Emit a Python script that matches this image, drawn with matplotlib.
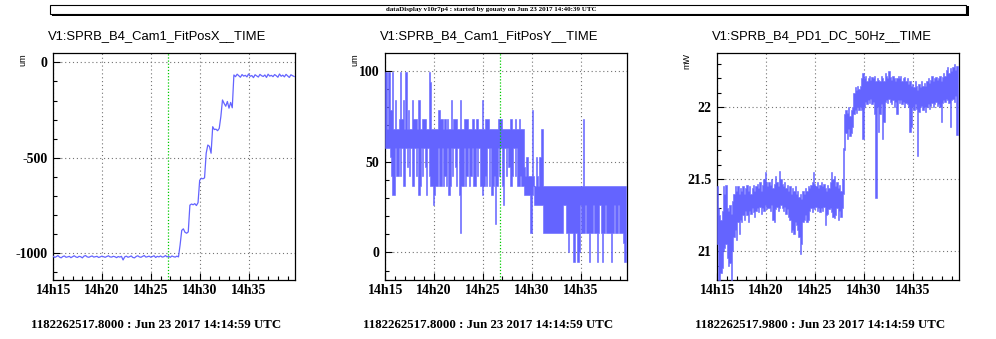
import datetime as dt
import numpy as np
import matplotlib
matplotlib.use('Agg')
import matplotlib.pyplot as plt
import matplotlib.dates as mdates
from matplotlib.patches import Rectangle

# trend start (GPS 1182262517) and window length
start = dt.datetime(2017, 6, 23, 14, 14, 59)
span_s = 1485
marker_s = 705  # green cursor

titles = ['V1:SPRB_B4_Cam1_FitPosX__TIME',
          'V1:SPRB_B4_Cam1_FitPosY__TIME',
          'V1:SPRB_B4_PD1_DC_50Hz__TIME']
units = ['um', 'um', 'mW']
footers = ['1182262517.8000 : Jun 23 2017 14:14:59 UTC',
           '1182262517.8000 : Jun 23 2017 14:14:59 UTC',
           '1182262517.9800 : Jun 23 2017 14:14:59 UTC']
header = 'dataDisplay v10r7p4 : started by gouaty on Jun 23 2017 14:40:39 UTC'

# FitPosX, one value every 10 s
posx_step_s = 10
posx = [
    -1015, -1022, -1018, -1012, -1020, -1024, -1017, -1014, -1021, -1019,
    -1016, -1023, -1018, -1013, -1019, -1022, -1016, -1018, -1024, -1015,
    -1012, -1019, -1021, -1017, -1014, -1020, -1018, -1016, -1022, -1019,
    -1015, -1018, -1021, -1017, -1013, -1019, -1020, -1016, -1018, -1023,
    -1017, -1020, -1016, -1035, -1019, -1015, -1021, -1018, -1014, -1022,
    -1024, -1017, -1013, -1019, -1021, -1016, -1012, -1020, -1018, -1015,
    -1021, -1017, -1013, -1022, -1016, -1019, -1014, -1020, -1018, -1012,
    -1019, -1016, -1021, -1014, -1018, -1020, -1015, -1019,
    -956, -880, -872, -890, -895, -888,
    -748, -742, -746, -740, -750, -735,
    -618, -607, -610, -605,
    -476, -433, -440, -476, -337, -352, -350, -358, -346, -284,
    -197, -215, -230, -205, -240, -210, -238,
    -66, -75, -62, -70, -78, -64, -72, -68, -76, -61, -73, -69, -80, -65,
    -71, -77, -63, -70, -74, -66, -79, -62, -72, -68, -75, -64, -70, -78,
    -61, -73, -67, -76, -63, -71, -79, -65, -70, -74,
]

# 8 s bins: min and max of the raw samples in each bin
bin_s = 8

posy_hi = [
    99.3, 99.3, 67.9, 99.3, 78.4, 78.4, 99.3, 67.9, 83.6, 67.9,
    67.9, 73.2, 99.3, 73.2, 83.6, 67.9, 99.3, 67.9, 78.4, 67.9,
    67.9, 83.6, 73.2, 73.2, 73.2, 67.9, 83.6, 67.9, 67.9, 73.2,
    73.2, 73.2, 67.9, 67.9, 99.3, 94.0, 67.9, 67.9, 67.9, 67.9,
    67.9, 78.4, 78.4, 73.2, 73.2, 67.9, 73.2, 67.9, 73.2, 67.9,
    67.9, 83.6, 67.9, 73.2, 73.2, 73.2, 67.9, 67.9, 83.6, 67.9,
    67.9, 73.2, 73.2, 73.2, 67.9, 67.9, 67.9, 73.2, 73.2, 67.9,
    73.2, 73.2, 67.9, 67.9, 67.9, 83.6, 67.9, 73.2, 73.2, 73.2,
    67.9, 67.9, 67.9, 67.9, 67.9, 67.9, 67.9, 73.2, 73.2, 73.2,
    67.9, 67.9, 67.9, 67.9, 67.9, 67.9, 73.2, 73.2, 67.9, 67.9,
    73.2, 67.9, 67.9, 73.2, 67.9, 67.9, 67.9, 47.1, 41.9, 52.3,
    41.9, 41.9, 41.9, 78.4, 41.9, 36.7, 52.3, 41.9, 36.7, 52.3,
    67.9, 67.9, 36.7, 36.7, 36.7, 36.7, 36.7, 36.7, 36.7, 36.7,
    36.7, 36.7, 36.7, 36.7, 36.7, 36.7, 36.7, 36.7, 36.7, 36.7,
    36.7, 36.7, 36.7, 36.7, 36.7, 36.7, 36.7, 36.7, 36.7, 36.7,
    36.7, 36.7, 73.2, 36.7, 36.7, 36.7, 36.7, 36.7, 36.7, 36.7,
    36.7, 36.7, 36.7, 36.7, 36.7, 36.7, 36.7, 36.7, 36.7, 36.7,
    36.7, 36.7, 36.7, 36.7, 36.7, 36.7, 36.7, 36.7, 36.7, 36.7,
    36.7, 36.7, 36.7, 36.7, 36.7, 36.7,
]
posy_lo = [
    57.5, 57.5, 57.5, 57.5, 52.3, 41.9, 31.4, 31.4, 57.5, 41.9,
    41.9, 57.5, 41.9, 57.5, 36.7, 36.7, 57.5, 47.1, 57.5, 41.9,
    57.5, 36.7, 36.7, 57.5, 41.9, 57.5, 31.4, 36.7, 57.5, 41.9,
    57.5, 47.1, 31.4, 57.5, 41.9, 36.7, 36.7, 26.2, 31.4, 36.7,
    36.7, 57.5, 36.7, 36.7, 57.5, 36.7, 41.9, 36.7, 57.5, 31.4,
    36.7, 57.5, 41.9, 57.5, 47.1, 36.7, 57.5, 31.4, 10.5, 36.7,
    36.7, 57.5, 36.7, 41.9, 57.5, 36.7, 41.9, 57.5, 36.7, 36.7,
    57.5, 41.9, 57.5, 36.7, 36.7, 31.4, 36.7, 41.9, 36.7, 57.5,
    36.7, 57.5, 31.4, 36.7, 41.9, 15.7, 36.7, 57.5, 41.9, 57.5,
    36.7, 26.2, 57.5, 41.9, 57.5, 47.1, 36.7, 36.7, 41.9, 57.5,
    41.9, 57.5, 36.7, 36.7, 41.9, 36.7, 36.7, 31.4, 31.4, 31.4,
    31.4, 31.4, 10.5, 31.4, 36.7, 26.2, 26.2, 26.2, 26.2, 26.2,
    26.2, 26.2, 10.5, 10.5, 10.5, 10.5, 10.5, 10.5, 10.5, 10.5,
    10.5, 10.5, 10.5, 10.5, 10.5, 10.5, 10.5, 26.2, 26.2, 10.5,
    10.5, 0.0, 10.5, 10.5, 10.5, -5.2, 10.5, 10.5, -5.2, 0.0,
    26.2, 10.5, 10.5, 10.5, 26.2, 10.5, 10.5, -5.2, 10.5, 10.5,
    26.2, 10.5, 10.5, -5.2, 10.5, 26.2, 10.5, -5.2, 10.5, 26.2,
    10.5, 10.5, 10.5, 10.5, -5.2, 10.5, 26.2, 10.5, 10.5, 26.2,
    10.5, 10.5, 10.5, 5.2, -5.2, 10.5,
]

pd1_hi = [
    21.45, 21.30, 21.25, 21.22, 21.28, 21.45, 21.40, 21.46, 21.30, 21.28,
    21.32, 21.26, 21.35, 21.40, 21.45, 21.42, 21.45, 21.40, 21.44, 21.42,
    21.45, 21.40, 21.44, 21.46, 21.42, 21.45, 21.40, 21.44, 21.46, 21.42,
    21.45, 21.47, 21.44, 21.48, 21.42, 21.46, 21.50, 21.55, 21.48, 21.45,
    21.48, 21.46, 21.50, 21.44, 21.47, 21.52, 21.48, 21.45, 21.56, 21.50,
    21.47, 21.45, 21.48, 21.44, 21.46, 21.42, 21.45, 21.40, 21.44, 21.42,
    21.45, 21.40, 21.42, 21.38, 21.40, 21.36, 21.42, 21.40, 21.44, 21.42,
    21.45, 21.44, 21.46, 21.48, 21.55, 21.47, 21.45, 21.48, 21.44, 21.46,
    21.48, 21.45, 21.47, 21.44, 21.42, 21.46, 21.44, 21.48, 21.55, 21.50,
    21.52, 21.45, 21.48, 21.44, 21.46, 21.42, 21.50, 21.72, 21.95, 21.98,
    21.96, 22.00, 21.94, 21.98, 22.00, 22.10, 22.14, 22.12, 22.15, 22.13,
    22.15, 22.20, 22.24, 22.20, 22.22, 22.18, 22.20, 22.22, 22.19, 22.21,
    22.20, 22.22, 22.18, 22.20, 22.19, 22.18, 22.22, 22.20, 22.18, 22.24,
    22.22, 22.20, 22.25, 22.21, 22.19, 22.22, 22.20, 22.18, 22.20, 22.22,
    22.20, 22.22, 22.18, 22.20, 22.21, 22.18, 22.20, 22.16, 22.18, 22.15,
    22.16, 22.14, 22.18, 22.15, 22.12, 22.16, 22.14, 22.18, 22.15, 22.17,
    22.15, 22.18, 22.20, 22.17, 22.19, 22.22, 22.18, 22.20, 22.21, 22.19,
    22.20, 22.22, 22.18, 22.21, 22.24, 22.22, 22.26, 22.28, 22.24, 22.27,
    22.25, 22.28, 22.30, 22.26, 22.29, 22.25,
]
pd1_lo = [
    21.05, 20.80, 20.80, 20.85, 20.88, 21.00, 21.02, 21.05, 20.95, 20.90,
    20.92, 20.80, 21.00, 21.10, 21.15, 21.08, 21.20, 21.12, 21.22, 21.20,
    21.25, 21.22, 21.28, 21.25, 21.20, 21.28, 21.26, 21.30, 21.27, 21.24,
    21.28, 21.30, 21.27, 21.31, 21.26, 21.30, 21.28, 21.32, 21.29, 21.30,
    21.30, 21.28, 21.32, 21.22, 21.20, 21.29, 21.31, 21.28, 21.30, 21.32,
    21.30, 21.28, 21.31, 21.26, 21.29, 21.24, 21.22, 21.13, 21.15, 21.12,
    21.20, 21.18, 21.15, 21.10, 20.98, 21.05, 21.20, 21.22, 21.25, 21.20,
    21.22, 21.28, 21.30, 21.27, 21.30, 21.29, 21.31, 21.28, 21.30, 21.27,
    21.30, 21.28, 21.31, 21.18, 21.25, 21.26, 21.29, 21.30, 21.27, 21.24,
    21.23, 21.25, 21.30, 21.22, 21.28, 21.24, 21.30, 21.40, 21.70, 21.82,
    21.78, 21.85, 21.80, 21.82, 21.86, 21.95, 21.98, 21.96, 22.00, 21.98,
    22.00, 21.98, 21.78, 22.00, 22.04, 22.02, 22.05, 22.03, 22.06, 22.02,
    22.04, 21.95, 21.37, 22.00, 21.83, 21.95, 22.02, 21.78, 21.90, 22.04,
    22.05, 22.03, 22.06, 22.04, 22.02, 22.05, 22.00, 22.04, 21.95, 22.05,
    22.03, 22.05, 22.02, 22.04, 22.00, 22.03, 22.02, 22.00, 21.83, 21.86,
    22.00, 21.98, 22.02, 21.99, 21.66, 21.97, 22.00, 22.01, 21.98, 22.00,
    21.97, 22.00, 22.02, 21.99, 22.01, 22.03, 22.00, 22.02, 22.04, 22.01,
    22.02, 22.00, 21.90, 22.03, 22.05, 22.04, 22.06, 22.05, 22.03, 21.86,
    22.05, 22.06, 22.04, 22.08, 21.81, 21.82,
]

ylims = [(-1140, 49), (-15.2, 109.7), (20.80, 22.377)]
yticks = [[-1000, -500, 0], [0, 50, 100], [21, 21.5, 22]]
yticklabels = [['-1000', '-500', '0'], ['0', '50', '100'], ['21', '21.5', '22']]
yminor = [100, 10, 0.1]
show_marker = [True, True, False]

lefts = [53, 385, 717]   # pixel positions
W, H = 996, 339
ax_w, ax_top, ax_bot = 242, 53, 280

fig = plt.figure(figsize=(W / 100, H / 100), dpi=100)
fig.patch.set_facecolor('white')

line_col = '#6464ff'
serif_bold = dict(family='Liberation Serif', weight='bold')


def seconds(n, step):
    return [start + dt.timedelta(seconds=i * step) for i in range(n)]


axes = []
for k in range(3):
    ax = fig.add_axes([lefts[k] / W, 1 - ax_bot / H, ax_w / W, (ax_bot - ax_top) / H])
    axes.append(ax)

# X position is a plain line, the two noisy channels are drawn as min/max per bin
axes[0].plot(seconds(len(posx), posx_step_s), posx, color=line_col, lw=0.9, zorder=3)
for ax, lo, hi in [(axes[1], posy_lo, posy_hi), (axes[2], pd1_lo, pd1_hi)]:
    tb = seconds(len(lo), bin_s)
    ax.fill_between(tb, lo, hi, step='mid', color=line_col, lw=0.4,
                    edgecolor=line_col, zorder=3)

for k, ax in enumerate(axes):
    if show_marker[k]:
        ax.axvline(start + dt.timedelta(seconds=marker_s), color='#00cc00',
                   lw=0.9, ls=(0, (1, 1.5)), zorder=4)
    ax.set_xlim(start, start + dt.timedelta(seconds=span_s))
    ax.set_ylim(*ylims[k])

    ax.xaxis.set_major_locator(mdates.MinuteLocator(byminute=range(0, 60, 5)))
    ax.xaxis.set_minor_locator(mdates.MinuteLocator())
    ax.xaxis.set_major_formatter(mdates.DateFormatter('%Hh%M'))
    ax.set_yticks(yticks[k])
    ax.set_yticklabels(yticklabels[k])
    ax.yaxis.set_minor_locator(plt.MultipleLocator(yminor[k]))

    ax.tick_params(which='both', direction='in', top=False, right=False, color='black')
    ax.tick_params(which='major', length=5, width=0.8)
    ax.tick_params(which='minor', length=2.6, width=0.8)
    ax.tick_params(axis='x', pad=3)
    ax.tick_params(axis='y', pad=4)
    for lab in ax.get_xticklabels() + ax.get_yticklabels():
        lab.set_fontfamily('Liberation Serif')
        lab.set_fontweight('bold')
        lab.set_fontsize(10)

    ax.grid(True, which='major', color='0.45', lw=0.8, ls=(0, (1, 2.5)))
    for sp in ax.spines.values():
        sp.set_linewidth(0.9)
        sp.set_color('black')

    fig.text((lefts[k] - 5) / W, 1 - 36 / H, titles[k], family='Liberation Sans',
             fontsize=9.4, ha='left', va='center')
    fig.text((lefts[k] - 30) / W, 1 - 53 / H, units[k], family='Liberation Sans',
             fontsize=6.5, rotation=90, ha='center', va='top')
    fig.text((lefts[k] + 103) / W, 1 - 325 / H, footers[k], fontsize=9.3,
             ha='center', va='center', **serif_bold)

# header box with shadow
fig.add_artist(Rectangle((52 / W, 1 - 16 / H), 917 / W, 10 / H, transform=fig.transFigure,
                         facecolor='black', edgecolor='none'))
fig.add_artist(Rectangle((50 / W, 1 - 14 / H), 916 / W, 9 / H, transform=fig.transFigure,
                         facecolor='white', edgecolor='black', lw=0.8))
fig.text(491 / W, 1 - 9.5 / H, header, fontsize=5, ha='center', va='center', **serif_bold)

fig.savefig('out.png', dpi=100)
